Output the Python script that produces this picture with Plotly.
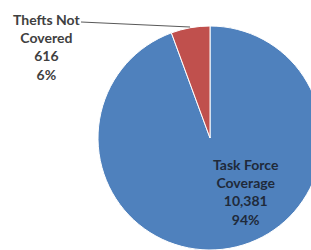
import plotly.graph_objects as go

labels = ["Task Force Coverage", "Thefts Not Covered"]
label_lines = [["Task Force", "Coverage"], ["Thefts Not", "Covered"]]
values = [10381, 616]
colors = ["#4F81BD", "#C0504D"]

W, H = 311, 250          # visible window
FW, FH = 323, 250        # figure is a bit wider so the pie is clipped on the right like the reference
total = sum(values)
pcts = [round(v / total * 100) for v in values]


def px(x):
    return x / FW


def py(y):
    return 1 - y / FH


def label_text(i):
    return "<br>".join(label_lines[i] + [f"{values[i]:,}", f"{pcts[i]}%"])


fig = go.Figure(
    go.Pie(
        labels=labels,
        values=values,
        marker=dict(colors=colors, line=dict(color="white", width=1)),
        sort=False,
        direction="clockwise",
        rotation=0,
        textinfo="none",
        hoverinfo="label+value+percent",
        domain=dict(x=[px(98), px(322)], y=[py(250), py(26)]),
        showlegend=False,
    )
)

fig.add_annotation(
    x=px(46), y=py(47), xref="paper", yref="paper",
    text=label_text(1), showarrow=False, align="center",
    font=dict(family="Lato, 'Open Sans', sans-serif", size=14, color="#404040", weight="bold"),
    xanchor="center", yanchor="middle",
)
fig.add_annotation(
    x=px(246), y=py(192), xref="paper", yref="paper",
    text=label_text(0), showarrow=False, align="center",
    font=dict(family="Lato, 'Open Sans', sans-serif", size=14, color="#1F2A3A", weight="bold"),
    xanchor="center", yanchor="middle",
)
fig.add_shape(
    type="line", xref="paper", yref="paper",
    x0=px(81), y0=py(22), x1=px(190), y1=py(27),
    line=dict(color="#595959", width=1),
)

fig.update_layout(
    width=FW, height=FH,
    margin=dict(l=0, r=0, t=0, b=0),
    paper_bgcolor="white",
    plot_bgcolor="white",
)

fig.write_html(
    "out.html",
    config={"displayModeBar": False},
    post_script=(
        "document.body.style.margin='0';"
        "document.documentElement.style.overflow='hidden';"
        "document.body.style.overflow='hidden';"
    ),
)
